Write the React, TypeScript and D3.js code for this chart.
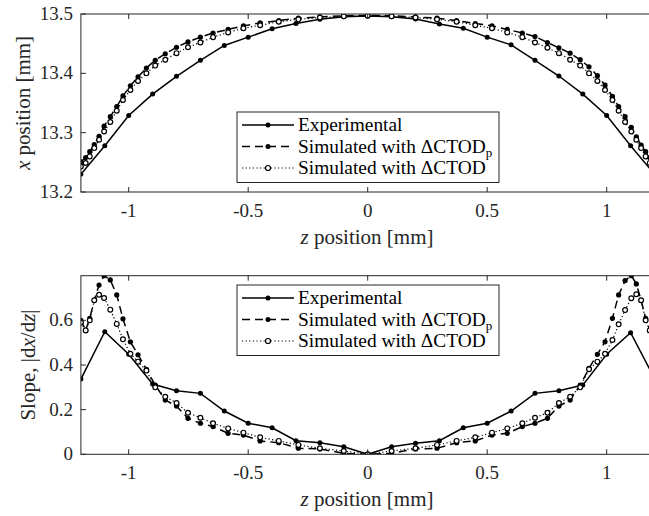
import React from 'react'
import * as d3 from 'd3'

// experimental measurements, every 0.1 mm
const zExp = [-1.2, -1.1, -1.0, -0.9, -0.8, -0.7, -0.6, -0.5, -0.4, -0.3, -0.2, -0.1, 0,
  0.1, 0.2, 0.3, 0.4, 0.5, 0.6, 0.7, 0.8, 0.9, 1.0, 1.1, 1.2]
const xExp = [13.230, 13.278, 13.329, 13.365, 13.395, 13.422, 13.447, 13.461, 13.475, 13.484, 13.491, 13.4955, 13.4966,
  13.4955, 13.4916, 13.483, 13.476, 13.461, 13.448, 13.422, 13.3955, 13.365, 13.329, 13.278, 13.230]
const slopeExp = [0.337, 0.549, 0.448, 0.315, 0.285, 0.273, 0.194, 0.139, 0.119, 0.061, 0.052, 0.034, 0,
  0.034, 0.049, 0.061, 0.119, 0.139, 0.194, 0.273, 0.285, 0.31, 0.448, 0.545, 0.34]

// simulation mesh (refined towards the edges)
const zSim = [-1.2, -1.18, -1.163, -1.144, -1.124, -1.103, -1.077, -1.05, -1.024, -0.993, -0.961, -0.926, -0.889,
  -0.847, -0.8, -0.752, -0.7, -0.647, -0.584, -0.52, -0.45, -0.372, -0.29, -0.2, -0.1, 0,
  0.1, 0.2, 0.29, 0.372, 0.45, 0.52, 0.584, 0.647, 0.7, 0.752, 0.8, 0.847, 0.889, 0.926, 0.961, 0.993,
  1.024, 1.05, 1.077, 1.103, 1.124, 1.144, 1.163, 1.18, 1.2]

const xSimP = [13.251, 13.258, 13.268, 13.280, 13.294, 13.311, 13.327, 13.344, 13.362, 13.379, 13.394, 13.409, 13.422,
  13.433, 13.444, 13.453, 13.461, 13.468, 13.474, 13.480, 13.485, 13.489, 13.493, 13.495, 13.497, 13.498,
  13.497, 13.495, 13.493, 13.489, 13.484, 13.480, 13.474, 13.468, 13.462, 13.452, 13.443, 13.434, 13.423, 13.411, 13.396, 13.380,
  13.361, 13.344, 13.327, 13.309, 13.293, 13.279, 13.268, 13.258, 13.251]
const xSim = [13.243, 13.249, 13.260, 13.274, 13.288, 13.302, 13.318, 13.337, 13.355, 13.372, 13.387, 13.400, 13.413,
  13.423, 13.434, 13.444, 13.452, 13.461, 13.469, 13.476, 13.481, 13.487, 13.491, 13.494, 13.496, 13.497,
  13.496, 13.494, 13.491, 13.487, 13.481, 13.476, 13.469, 13.461, 13.452, 13.443, 13.434, 13.423, 13.413, 13.400, 13.387, 13.372,
  13.355, 13.337, 13.318, 13.302, 13.288, 13.274, 13.260, 13.249, 13.243]

const slopeSimP = [0.600, 0.556, 0.609, 0.691, 0.758, 0.800, 0.781, 0.714, 0.607, 0.504, 0.446, 0.381, 0.31,
  0.243, 0.216, 0.161, 0.139, 0.124, 0.094, 0.086, 0.06, 0.052, 0.027, 0.024, 0.004, 0,
  0.004, 0.024, 0.027, 0.052, 0.06, 0.086, 0.094, 0.124, 0.139, 0.161, 0.216, 0.243, 0.31, 0.385, 0.448, 0.504,
  0.609, 0.714, 0.778, 0.800, 0.763, 0.69, 0.609, 0.556, 0.600]
const slopeSim = [0.59, 0.555, 0.60, 0.69, 0.715, 0.70, 0.648, 0.584, 0.515, 0.45, 0.415, 0.375, 0.30,
  0.258, 0.23, 0.186, 0.164, 0.139, 0.116, 0.097, 0.076, 0.06, 0.042, 0.027, 0.015, 0,
  0.015, 0.027, 0.042, 0.06, 0.076, 0.097, 0.116, 0.139, 0.164, 0.186, 0.23, 0.258, 0.30, 0.381, 0.415, 0.45,
  0.512, 0.582, 0.646, 0.699, 0.717, 0.69, 0.60, 0.555, 0.59]

const xTicks = [-1, -0.5, 0, 0.5, 1]
const topTicks = [13.2, 13.3, 13.4, 13.5]
const botTicks = [0, 0.2, 0.4, 0.6]
const legendNames = ['Experimental', 'Simulated with \u0394CTOD', 'Simulated with \u0394CTOD']

const FONT = "'Liberation Serif', 'Times New Roman', serif"
const AX = '#262626'

const xScale = d3.scaleLinear().domain([-1.2, 1.2]).range([80.9, 654.5])

function Panel({y, yTicks, yFmt, ySeries, label, labelX, legendTop, id}) {
  const [y0, y1] = y.range()
  const x0 = xScale.range()[0], x1 = xScale.range()[1]
  const line = (zs, vs) => d3.line()(zs.map((z, i) => [xScale(z), y(vs[i])]))
  const [exp, simP, sim] = ySeries
  const rowH = 21.5
  const legRows = [
    {dash: null, open: false},
    {dash: '8,5', open: false},
    {dash: '1.2,2.4', open: true},
  ]
  const tf = {fontFamily: FONT}
  return (
    <g>
      <clipPath id={id}>
        <rect x={x0} y={y1} width={x1 - x0} height={y0 - y1} />
      </clipPath>
      <g clipPath={`url(#${id})`}>
        <path d={line(zExp, exp)} fill="none" stroke="#000" strokeWidth={1.5} />
        {zExp.map((z, i) => <circle key={'e' + i} cx={xScale(z)} cy={y(exp[i])} r={2.5} fill="#000" />)}
        <path d={line(zSim, simP)} fill="none" stroke="#000" strokeWidth={1.5} strokeDasharray="8,5" />
        {zSim.map((z, i) => <circle key={'p' + i} cx={xScale(z)} cy={y(simP[i])} r={2.6} fill="#000" />)}
        <path d={line(zSim, sim)} fill="none" stroke="#000" strokeWidth={1.2} strokeDasharray="1.2,2.4" />
        {zSim.map((z, i) => <circle key={'s' + i} cx={xScale(z)} cy={y(sim[i])} r={2.4} fill="#fff" stroke="#000" strokeWidth={1.2} />)}
      </g>
      <rect x={x0} y={y1} width={x1 - x0} height={y0 - y1} fill="none" stroke={AX} strokeWidth={1} />
      {xTicks.map(t => (
        <g key={'xt' + t}>
          <line x1={xScale(t)} x2={xScale(t)} y1={y0} y2={y0 - 5} stroke={AX} />
          <line x1={xScale(t)} x2={xScale(t)} y1={y1} y2={y1 + 5} stroke={AX} />
          <text x={xScale(t)} y={y0 + 25} textAnchor="middle" fontSize={19} fill={AX} style={tf}>{String(t)}</text>
        </g>
      ))}
      {yTicks.map(t => (
        <g key={'yt' + t}>
          <line x1={x0} x2={x0 + 5} y1={y(t)} y2={y(t)} stroke={AX} />
          <line x1={x1} x2={x1 - 5} y1={y(t)} y2={y(t)} stroke={AX} />
          <text x={73} y={y(t) + 6} textAnchor="end" fontSize={19} fill={AX} style={tf}>{yFmt(t)}</text>
        </g>
      ))}
      <text x={367} y={y0 + 52} textAnchor="middle" fontSize={21} fill={AX} style={tf}>
        <tspan fontStyle="italic">z</tspan> position [mm]
      </text>
      <text transform={`translate(${labelX},${(y0 + y1) / 2}) rotate(-90)`} textAnchor="middle" fontSize={21} fill={AX} style={tf}>
        {label}
      </text>
      <rect x={237} y={legendTop} width={262} height={rowH * 3 + 6} fill="#fff" stroke={AX} strokeWidth={1} />
      {legRows.map((r, i) => {
        const cy = legendTop + 13 + i * rowH
        return (
          <g key={'l' + i}>
            <line x1={242} x2={294} y1={cy} y2={cy} stroke="#000" strokeWidth={i === 2 ? 1.2 : 1.5} strokeDasharray={r.dash || undefined} />
            <circle cx={268} cy={cy} r={2.5} fill={r.open ? '#fff' : '#000'} stroke="#000" strokeWidth={r.open ? 1.2 : 0} />
            <text x={298} y={cy + 6} fontSize={19.4} fill="#000" style={tf}>
              {legendNames[i]}
              {i === 1 ? <tspan fontSize={13} dy={4}>p</tspan> : null}
            </text>
          </g>
        )
      })}
    </g>
  )
}

export default function App() {
  const yTop = d3.scaleLinear().domain([13.2, 13.5]).range([192, 14])
  const yBot = d3.scaleLinear().domain([0, 0.8]).range([454.3, 275.7])
  return (
    <svg width={649} height={516} style={{position: 'absolute', left: 0, top: 0, background: '#fff'}}>
      <Panel id="clipTop" y={yTop} yTicks={topTicks} yFmt={t => t.toFixed(1)}
        ySeries={[xExp, xSimP, xSim]} labelX={30} legendTop={112}
        label={<><tspan fontStyle="italic">x</tspan> position [mm]</>} />
      <Panel id="clipBot" y={yBot} yTicks={botTicks} yFmt={t => (t === 0 ? '0' : t.toFixed(1))}
        ySeries={[slopeExp, slopeSimP, slopeSim]} labelX={35} legendTop={285}
        label={<>Slope, |d<tspan fontStyle="italic">x</tspan>/d<tspan fontStyle="italic">z</tspan>|</>} />
    </svg>
  )
}
